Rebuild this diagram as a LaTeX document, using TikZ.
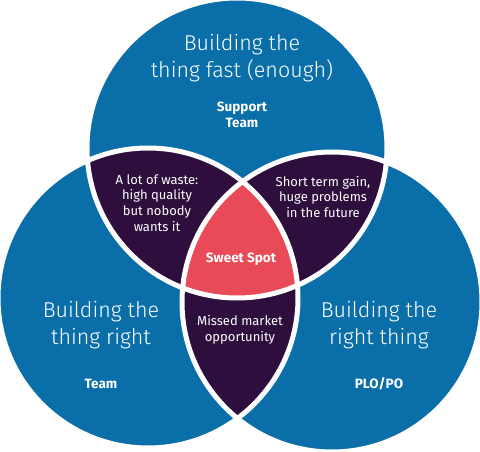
\documentclass[tikz,border=0pt]{standalone}
\usepackage{fontspec}
\setmainfont{Fira Sans}
\newfontfamily\lightfont{Fira Sans}[UprightFont=* Light]
\usepackage{tikz}
\usetikzlibrary{positioning}
\definecolor{vennblue}{HTML}{0A6FA9}
\definecolor{overlap}{HTML}{2E0E3D}
\definecolor{sweet}{HTML}{E84A57}
\newcommand{\rad}{150pt}

\begin{document}
\begin{tikzpicture}[
    x=1pt, y=-1pt,
    heading/.style={
      text=white, align=center,
      font=\lightfont\fontsize{21.5}{26.5}\selectfont
    },
    role/.style={
      text=white, align=center,
      font=\fontsize{13.5}{16.5}\selectfont\bfseries
    },
    region/.style={
      text=white, align=center,
      font=\fontsize{13}{15.8}\selectfont
    },
    gap/.style={
      draw=white, line width=5pt
    }
  ]
  \useasboundingbox (0,0) rectangle (480,452);

  % --- Circle centres ---
  \coordinate (fastC) at (237,148);
  \coordinate (rightC) at (148,298);
  \coordinate (thingC) at (332,302);

  % --- Fills: circles, pairwise overlaps, sweet spot ---
  \fill[vennblue] (fastC) circle[radius=\rad];
  \fill[vennblue] (rightC) circle[radius=\rad];
  \fill[vennblue] (thingC) circle[radius=\rad];

  \begin{scope}
    \clip (fastC) circle[radius=\rad];
    \fill[overlap] (rightC) circle[radius=\rad];
    \fill[overlap] (thingC) circle[radius=\rad];
  \end{scope}
  \begin{scope}
    \clip (rightC) circle[radius=\rad];
    \fill[overlap] (thingC) circle[radius=\rad];
  \end{scope}
  \begin{scope}
    \clip (fastC) circle[radius=\rad];
    \clip (rightC) circle[radius=\rad];
    \fill[sweet] (thingC) circle[radius=\rad];
  \end{scope}

  % --- White borders ---
  \draw[gap] (fastC) circle[radius=\rad];
  \draw[gap] (rightC) circle[radius=\rad];
  \draw[gap] (thingC) circle[radius=\rad];

  % --- Circle labels ---
  \node[heading] (fastT) at (242,58) {Building the\\thing fast (enough)};
  \node[role] (fastR) at (242,115) {Support\\Team};

  \node[heading] (rightT) at (101,325) {Building the\\thing right};
  \node[role] (rightR) at (101,384) {Team};

  \node[heading] (thingT) at (379,325) {Building the\\right thing};
  \node[role] (thingR) at (379,384) {PLO/PO};

  % --- Overlap labels ---
  \node[region] (wasteL) at (157,203)
    {A lot of waste:\\high quality\\but nobody\\wants it};
  \node[region] (shortL) at (323,197)
    {Short term gain,\\huge problems\\in the future};
  \node[region] (missedL) at (240,330) {Missed market\\opportunity};
  \node[role] (sweetL) at (241,259) {Sweet Spot};
\end{tikzpicture}
\end{document}
